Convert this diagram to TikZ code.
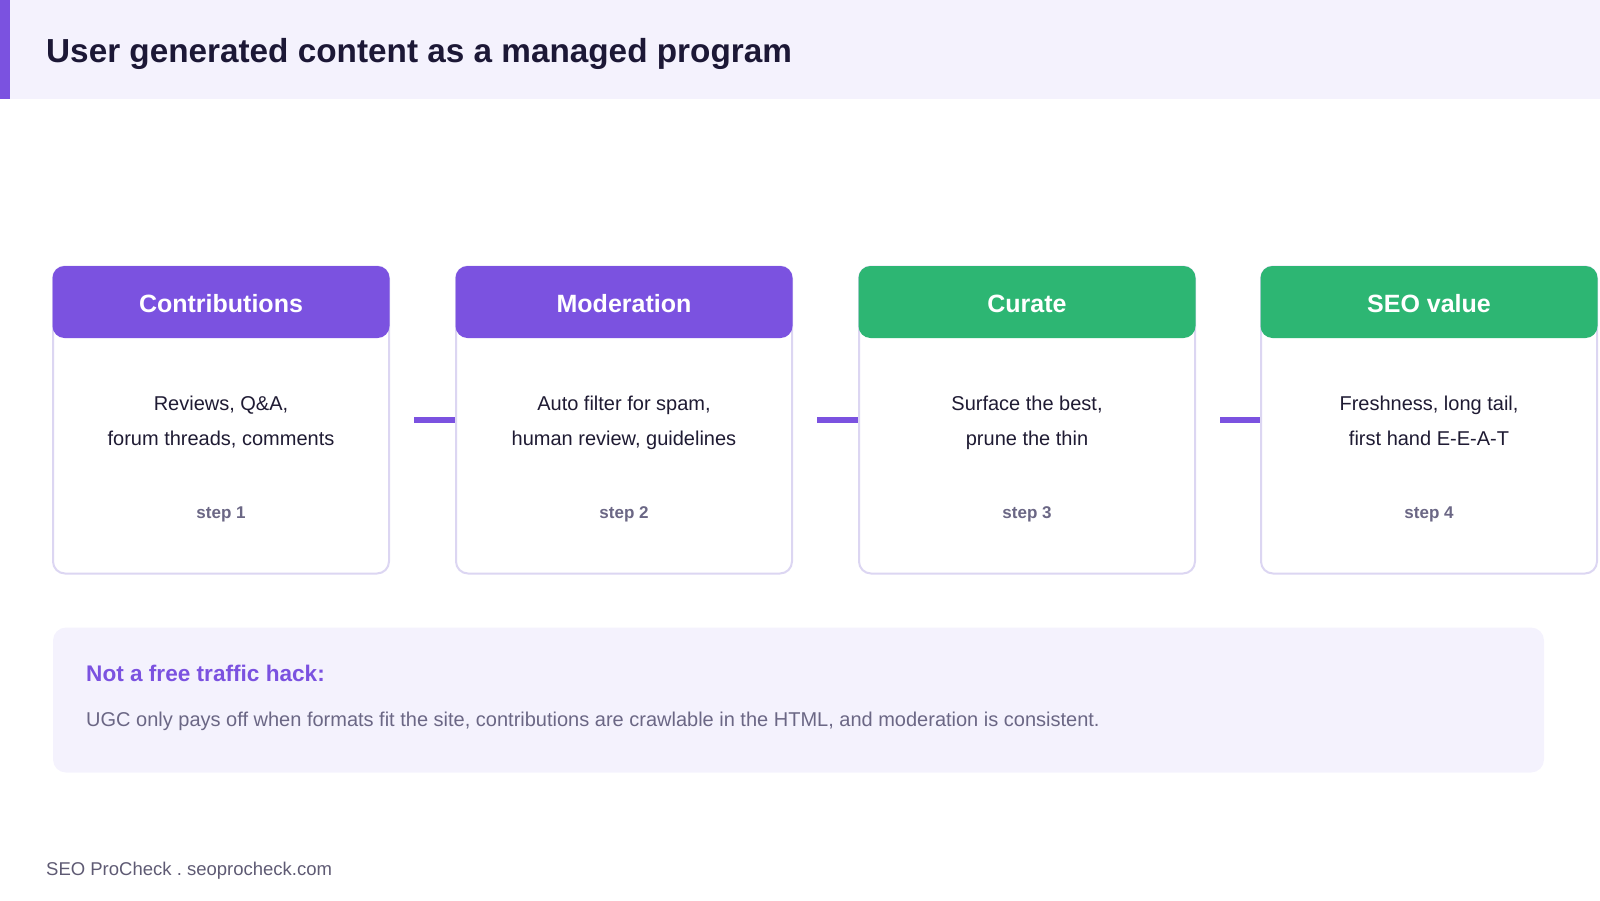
\documentclass[tikz,border=0pt]{standalone}
\usepackage{fontspec}
\setmainfont{Liberation Sans}
\frenchspacing
\definecolor{accent}{HTML}{7B52E0}
\definecolor{grn}{HTML}{2DB673}
\definecolor{bandbg}{HTML}{F4F2FD}
\definecolor{cardline}{HTML}{DCD6F2}
\definecolor{titlecol}{HTML}{1C1836}
\definecolor{bodycol}{HTML}{1F1B33}
\definecolor{stepcol}{HTML}{6B6785}
\definecolor{footcol}{HTML}{5E5A73}
\tikzset{
  card/.style={draw=cardline, line width=2pt, fill=white, rounded corners=12pt,
    minimum width=336pt, minimum height=307pt, inner sep=0pt},
  headbox/.style={rounded corners=12pt, minimum width=337pt, minimum height=72pt,
    inner sep=0pt, text=white, font=\bfseries\fontsize{25}{29}\selectfont},
  purplehead/.style={headbox, fill=accent},
  greenhead/.style={headbox, fill=grn},
  bodytext/.style={align=center, text=bodycol, font=\fontsize{20}{35}\selectfont, inner sep=0pt},
  steptext/.style={text=stepcol, font=\bfseries\fontsize{17}{20}\selectfont, inner sep=0pt},
  conn/.style={draw=accent, line width=5.5pt},
}
\begin{document}
\begin{tikzpicture}[x=1pt,y=-1pt]
\useasboundingbox (0,0) rectangle (1600,900);
% header band
\fill[bandbg] (0,0) rectangle (1600,99);
\fill[accent] (0,0) rectangle (10,99);
\node[anchor=west, inner sep=0pt, text=titlecol, font=\bfseries\fontsize{33.3}{40}\selectfont] (title) at (46,54) {User generated content as a managed program};
% cards
\node[card] (c1) at (221,420) {};
\node[card] (c2) at (624,420) {};
\node[card] (c3) at (1027,420) {};
\node[card] (c4) at (1429,420) {};
\node[purplehead] (h1) at (221,302) {};
\node[purplehead] (h2) at (624,302) {};
\node[greenhead] (h3) at (1027,302) {};
\node[greenhead] (h4) at (1429,302) {};
\node[headbox, minimum width=0pt, minimum height=0pt] (t1) at (221,304) {Contributions};
\node[headbox, minimum width=0pt, minimum height=0pt] (t2) at (624,304) {Moderation};
\node[headbox, minimum width=0pt, minimum height=0pt] (t3) at (1027,304) {Curate};
\node[headbox, minimum width=0pt, minimum height=0pt] (t4) at (1429,304) {SEO value};
\node[bodytext] (b1) at (221,420.7) {\strut Reviews, Q\&A,\\\strut forum threads, comments};
\node[bodytext] (b2) at (624,420.7) {\strut Auto filter for spam,\\\strut human review, guidelines};
\node[bodytext] (b3) at (1027,420.7) {\strut Surface the best,\\\strut prune the thin};
\node[bodytext] (b4) at (1429,420.7) {\strut Freshness, long tail,\\\strut first hand E-E-A-T};
\node[steptext] (s1) at (221,514) {step 1};
\node[steptext] (s2) at (624,514) {step 2};
\node[steptext] (s3) at (1027,514) {step 3};
\node[steptext] (s4) at (1429,514) {step 4};
% connectors
\draw[conn] ([xshift=24pt]c1.east) -- (c2.west);
\draw[conn] ([xshift=24pt]c2.east) -- (c3.west);
\draw[conn] ([xshift=24pt]c3.east) -- (c4.west);
% note
\node[fill=bandbg, rounded corners=13pt, minimum width=1491pt, minimum height=145pt, inner sep=0pt] (note) at (798.5,700) {};
\node[anchor=west, inner sep=0pt, text=accent, font=\bfseries\fontsize{22.6}{27}\selectfont] (notehead) at (86,673) {Not a free traffic hack:};
\node[anchor=west, inner sep=0pt, text=stepcol, font=\fontsize{20}{24}\selectfont] (notebody) at (86,721) {UGC only pays off when formats fit the site, contributions are crawlable in the HTML, and moderation is consistent.};
% footer
\node[anchor=west, inner sep=0pt, text=footcol, font=\fontsize{18.5}{22}\selectfont] (footer) at (46,871) {SEO ProCheck . seoprocheck.com};
\end{tikzpicture}
\end{document}
